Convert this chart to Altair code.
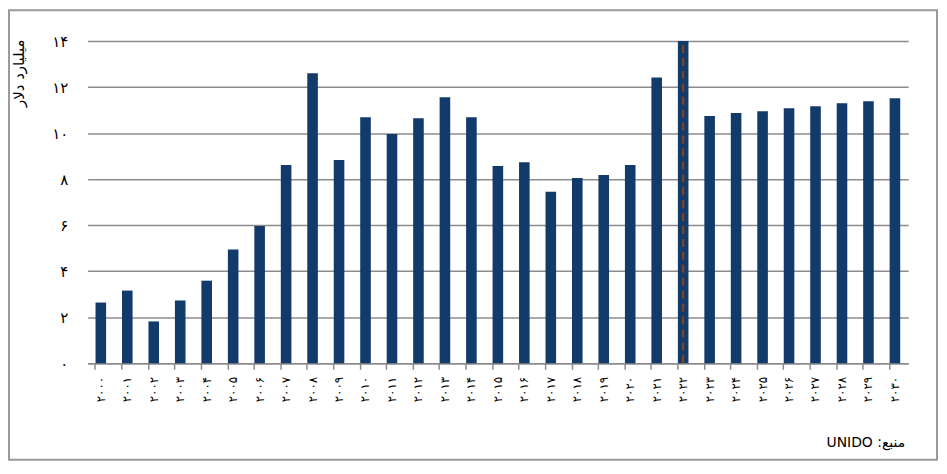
import altair as alt
import pandas as pd

years = list(range(2000, 2031))
values = [2.64, 3.16, 1.82, 2.73, 3.59, 4.94, 5.97, 8.61, 12.6, 8.83,
          10.69, 9.96, 10.65, 11.56, 10.69, 8.57, 8.74, 7.45, 8.05, 8.18,
          8.61, 12.42, 14.0, 10.74, 10.87, 10.95, 11.08, 11.17, 11.30, 11.38, 11.52]
marker_year = 2022
y_ticks = [0, 2, 4, 6, 8, 10, 12, 14]
y_title = "میلیارد دلار"
source_text = "\u202bمنبع: UNIDO\u202c"

fa_digits = "۰۱۲۳۴۵۶۷۸۹"


def to_fa(n):
    return "".join(fa_digits[int(c)] for c in str(n))


year_labels = [to_fa(y) for y in years]
df = pd.DataFrame({"year": year_labels, "value": values})
marker_df = pd.DataFrame({"year": [to_fa(marker_year)], "lo": [0], "hi": [14]})

label_expr = "datum.label"
for i, d in enumerate(fa_digits):
    label_expr = f"replace({label_expr}, regexp('{i}', 'g'), '{d}')"

W, H = 825, 324
FONT = "DejaVu Sans"

xscale = alt.Scale(domain=year_labels, paddingInner=0.6, paddingOuter=0.3)

xenc = alt.X("year:N", scale=xscale,
             axis=alt.Axis(title=None, labelAngle=270, labelFontSize=12,
                           labelFont=FONT, labelColor="#000000",
                           labelPadding=7, bandPosition=0,
                           domainColor="#8c8c8c", domainWidth=1.5,
                           tickColor="#8c8c8c", tickWidth=1.5, tickSize=6,
                           grid=False))

bars = alt.Chart(df).mark_bar(color="#123a6b").encode(
    x=xenc,
    y=alt.Y("value:Q", scale=alt.Scale(domain=[0, 14], nice=False),
            axis=alt.Axis(values=y_ticks, title=y_title, titleFont=FONT,
                          titleFontSize=15, titleFontWeight="normal",
                          titleColor="#000000", titleX=-69, titleY=-2,
                          titleAngle=270, titleAlign="right",
                          titleBaseline="middle",
                          labelExpr=label_expr, labelFont=FONT,
                          labelFontSize=15, labelColor="#000000",
                          labelPadding=20, domain=False, ticks=False,
                          gridColor="#8c8c8c", gridWidth=1.5)),
)

rule = alt.Chart(marker_df).mark_rule(color="#8b4513", strokeWidth=2,
                                      strokeDash=[8, 5]).encode(
    x=alt.X("year:N", scale=xscale),
    y=alt.Y("lo:Q"),
    y2="hi:Q",
)

source = alt.Chart(marker_df).mark_text(align="right", baseline="middle",
                                        font=FONT, fontSize=14,
                                        color="#000000").encode(
    x=alt.value(W - 3), y=alt.value(H + 80), text=alt.value(source_text)
)

border = alt.Chart(marker_df).mark_rect(fill=None, stroke="#9a9a9a",
                                        strokeWidth=2, clip=False).encode(
    x=alt.value(-79), x2=alt.value(W + 29),
    y=alt.value(-31), y2=alt.value(H + 97),
)

chart = alt.layer(bars, rule, source, border).properties(
    width=W, height=H,
    padding={"left": 80, "top": 32, "right": 31, "bottom": 99},
    autosize=alt.AutoSizeParams(type="none"),
    background="white",
).configure_view(stroke=None)

chart.save("out.html", embed_options={"renderer": "svg", "actions": False})
